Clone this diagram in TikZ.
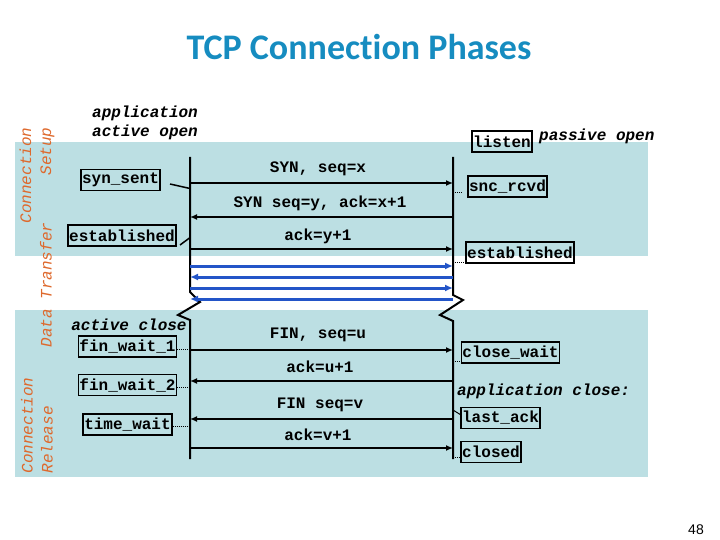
\documentclass[tikz,border=0pt]{standalone}
\usepackage{fontspec}
\setmainfont{Liberation Sans}
\newfontfamily\monof{Liberation Mono}
\newfontfamily\titlef[Ligatures=NoCommon]{Carlito}
\usetikzlibrary{arrows.meta}
\definecolor{bg}{RGB}{188,223,227}
\definecolor{ttl}{RGB}{22,140,192}
\definecolor{org}{RGB}{222,105,45}
\definecolor{dblue}{RGB}{35,85,200}
\tikzset{
 state/.style={draw, line width=1.4pt, inner sep=1.2pt, minimum height=21pt, font=\monof\bfseries\fontsize{16}{17}\selectfont},
 lbl/.style={font=\monof\bfseries\fontsize{16}{17}\selectfont, inner sep=0pt},
 ilbl/.style={font=\monof\bfseries\itshape\fontsize{16}{19}\selectfont, inner sep=0pt, align=left},
 side/.style={font=\monof\itshape\fontsize{16}{20}\selectfont, text=org, rotate=90, inner sep=0pt},
 msg/.style={line width=1.8pt, -{Latex[length=7pt,width=6pt]}},
 datamsg/.style={line width=3pt, draw=dblue, -{Latex[length=8pt,width=7pt]}},
 tline/.style={line width=2pt, line join=miter},
 dotc/.style={line width=1pt, dash pattern=on 1pt off 1pt},
 tickc/.style={line width=1.5pt},
}
\begin{document}
\begin{tikzpicture}[x=1pt,y=-1pt]
\useasboundingbox (0,0) rectangle (720,540);
% background bands
\fill[bg] (15,142) rectangle (648,256);
\fill[bg] (15,310) rectangle (648,477);
% title
\node (title) at (359,47) {\titlef\bfseries\fontsize{36}{40}\selectfont\color{ttl}TCP Connection Phases};
% side labels
\node[side, align=right] (setup) at (37,175.5) {Connection\\Setup};
\node[side] (transfer) at (46,285) {Data Transfer};
\node[side, align=left] (release) at (37,425.5) {Connection\\Release};
% timelines
\coordinate (Ltop) at (190,157);
\coordinate (Lb1) at (190,292);
\coordinate (Lb2) at (200,302);
\coordinate (Lb3) at (178,315);
\coordinate (Lb4) at (190,320);
\coordinate (Lbot) at (190,459);
\coordinate (Rtop) at (453,157);
\coordinate (Rb1) at (453,295);
\coordinate (Rb2) at (463,300);
\coordinate (Rb3) at (440,315);
\coordinate (Rb4) at (453,321);
\coordinate (Rbot) at (453,459);
\draw[tline] (Ltop) -- (Lb1) -- (Lb2) -- (Lb3) -- (Lb4) -- (Lbot);
\draw[tline] (Rtop) -- (Rb1) -- (Rb2) -- (Rb3) -- (Rb4) -- (Rbot);
% message endpoints
\foreach \n/\y in {1/183,2/217,3/249,4/266,5/277,6/288,7/299,8/350,9/381,10/419,11/448}{
  \coordinate (L\n) at (190,\y);
  \coordinate (R\n) at (453,\y);
}
\draw[msg] (L1) -- (R1);
\draw[msg] (R2) -- (L2);
\draw[msg] (L3) -- (R3);
\draw[datamsg] (L4) -- (R4);
\draw[datamsg] (R5) -- (L5);
\draw[datamsg] (L6) -- (R6);
\draw[datamsg] (R7) -- (L7);
\draw[msg] (L8) -- (R8);
\draw[msg] (R9) -- (L9);
\draw[msg] (R10) -- (L10);
\draw[msg] (L11) -- (R11);
% message labels
\node[lbl] (m1) at (318,169) {SYN, seq=x};
\node[lbl] (m2) at (320,203) {SYN seq=y, ack=x+1};
\node[lbl] (m3) at (318,236) {ack=y+1};
\node[lbl] (m8) at (318,335) {FIN, seq=u};
\node[lbl] (m9) at (320,367) {ack=u+1};
\node[lbl] (m10) at (320,405) {FIN seq=v};
\node[lbl] (m11) at (318,435) {ack=v+1};
% left states
\node[ilbl, anchor=west] (aopen) at (92,122.5) {application\\active open};
\node[state] (synsent) at (120.5,180) {syn\_sent};
\node[state] (estL) at (122,235.5) {established};
\node[ilbl] (aclose) at (129,325) {active close};
\node[state] (fw1) at (127.5,346.5) {fin\_wait\_1};
\node[state] (fw2) at (127.5,385) {fin\_wait\_2};
\node[state] (tw) at (127.5,424.5) {time\_wait};
% right states
\node[state] (listen) at (502,141.5) {listen};
\node[ilbl, anchor=west] (popen) at (539,136) {passive open};
\node[state] (sncr) at (507.5,186.5) {snc\_rcvd};
\node[state] (estR) at (520,252.5) {established};
\node[state] (cw) at (510.5,352.5) {close\_wait};
\node[ilbl, anchor=west] (apclose) at (457,391) {application close:};
\node[state] (la) at (500.5,418) {last\_ack};
\node[state] (cl) at (491,452) {closed};
% state connectors
\coordinate (t1a) at (170,184); \coordinate (t1b) at (190,188.5);
\draw[tickc] (t1a) -- (t1b);
\coordinate (t2a) at (180,245); \coordinate (t2b) at (189.5,238);
\draw[tickc] (t2a) -- (t2b);
\coordinate (t3) at (190,349);
\draw[dotc] (fw1.east |- t3) -- (t3);
\coordinate (t4) at (190,387);
\draw[dotc] (fw2.east |- t4) -- (t4);
\coordinate (t5) at (190,426);
\draw[dotc] (tw.east |- t5) -- (t5);
\coordinate (r1a) at (455,193); \coordinate (r1b) at (463,193);
\draw[dotc] (r1a) -- (r1b);
\coordinate (r2) at (455,262);
\draw[dotc] (r2) -- (estR.west |- r2);
\coordinate (r3) at (455,361);
\draw[dotc] (r3) -- (cw.west |- r3);
\coordinate (r4a) at (453,410); \coordinate (r4b) at (461,415);
\draw[tickc, line width=1pt] (r4a) -- (r4b);
\coordinate (r5) at (455,457);
\draw[dotc] (r5) -- (cl.west |- r5);
% page number
\node (pg) at (696,530) {\fontsize{14}{16}\selectfont 48};
\end{tikzpicture}
\end{document}
